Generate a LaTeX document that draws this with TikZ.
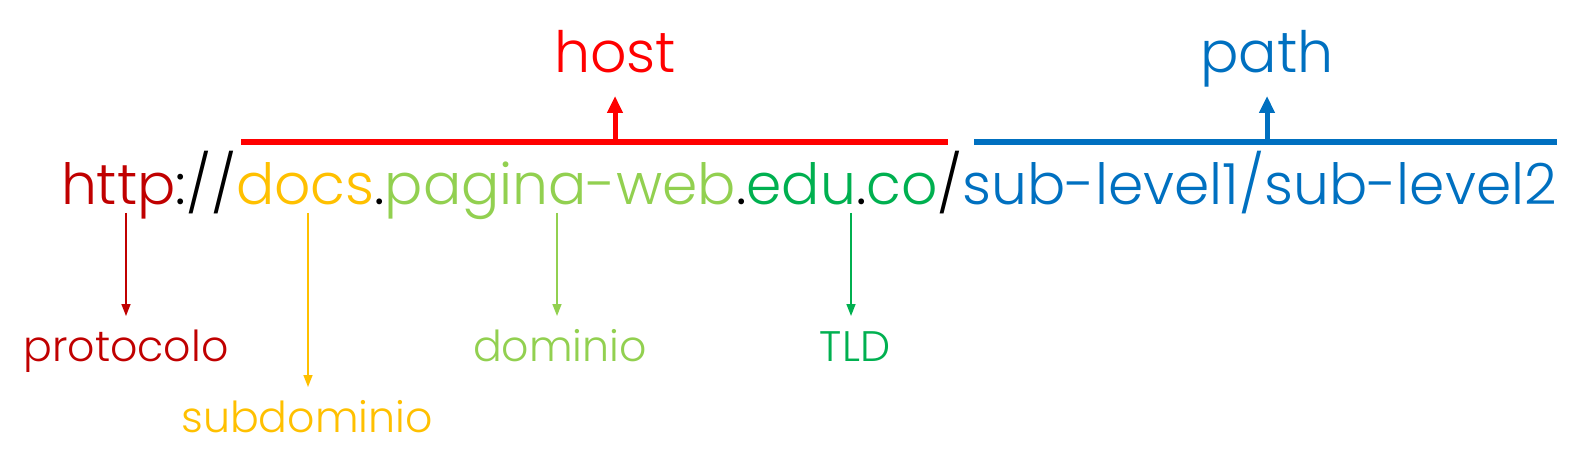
\documentclass[tikz,border=0pt]{standalone}
\usepackage{fontspec}
\setmainfont{Poppins Light}
\usetikzlibrary{arrows.meta}
\definecolor{cHttp}{HTML}{C00000}
\definecolor{cDocs}{HTML}{FFC000}
\definecolor{cPag}{HTML}{92D050}
\definecolor{cTld}{HTML}{00B050}
\definecolor{cPath}{HTML}{0070C0}
\definecolor{cHost}{HTML}{FF0000}
\newlength\tmpw
\newcommand\calcfs[3]{%
  \settowidth\tmpw{\normalfont\fontsize{50}{60}\selectfont #2}%
  \pgfmathsetmacro#1{50*(#3/\tmpw)}%
  \global\let#1#1}
\AtBeginDocument{%
\calcfs{\fsMain}{http://docs.pagina-web.edu.co/sub-level1/sub-level2}{1496}%
\calcfs{\fsLbl}{protocolo}{205}%
\calcfs{\fsHead}{host}{122}}
\begin{document}
\begin{tikzpicture}[x=1pt,y=-1pt,
  piece/.style={inner sep=0pt,outer sep=0pt,anchor=base west,font=\fontsize{\fsMain}{\fsMain}\selectfont},
  lbl/.style={inner sep=0pt,outer sep=0pt,anchor=base,font=\fontsize{\fsLbl}{\fsLbl}\selectfont},
  head/.style={inner sep=0pt,outer sep=0pt,anchor=base,font=\fontsize{\fsHead}{\fsHead}\selectfont},
  bar/.style={line width=5.5pt},
  uparr/.style={line width=5pt,-{Triangle[length=17pt,width=15pt]}},
  dnarr/.style={line width=1.5pt,-{Triangle[length=12pt,width=9pt]}}]
\useasboundingbox (0,0) rectangle (1594,470);
% main URL
\node[piece,text=cHttp] (http) at (61,205) {http};
\node[piece] (sep1) at (http.base east) {://};
\node[piece,text=cDocs] (docs) at (sep1.base east) {docs};
\node[piece] (dot1) at (docs.base east) {.};
\node[piece,text=cPag] (pagina) at (dot1.base east) {pagina-web};
\node[piece] (dot2) at (pagina.base east) {.};
\node[piece,text=cTld] (edu) at (dot2.base east) {edu};
\node[piece] (dot3) at (edu.base east) {.};
\node[piece,text=cTld] (co) at (dot3.base east) {co};
\node[piece] (sep2) at (co.base east) {/};
\node[piece,text=cPath] (pathtxt) at (sep2.base east) {sub-level1/sub-level2};
% headings and brackets
\node[head,text=cHost] (host) at (615,73) {host};
\node[head,text=cPath] (path) at (1267,73) {path};
\coordinate (hb1) at (241,142);
\coordinate (hb2) at (948,142);
\coordinate (hbm) at (615,142);
\coordinate (hbt) at (615,96);
\coordinate (pb1) at (974,142);
\coordinate (pb2) at (1557,142);
\coordinate (pbm) at (1267,142);
\coordinate (pbt) at (1267,96);
\draw[bar,cHost] (hb1) -- (hb2);
\draw[bar,cPath] (pb1) -- (pb2);
\draw[uparr,cHost] (hbm) -- (hbt);
\draw[uparr,cPath] (pbm) -- (pbt);
% labels
\node[lbl,text=cHttp] (protocolo) at (126,361) {protocolo};
\node[lbl,text=cDocs] (subdominio) at (307,432) {subdominio};
\node[lbl,text=cPag] (dominio) at (560,361) {dominio};
\node[lbl,text=cTld] (tld) at (855,361) {TLD};
\coordinate (a1) at (126,213);
\coordinate (a2) at (308,213);
\coordinate (a3) at (557,213);
\coordinate (a4) at (851,213);
\coordinate (e1) at (126,316);
\coordinate (e2) at (308,387);
\coordinate (e3) at (557,316);
\coordinate (e4) at (851,316);
\draw[dnarr,cHttp] (a1) -- (e1);
\draw[dnarr,cDocs] (a2) -- (e2);
\draw[dnarr,cPag] (a3) -- (e3);
\draw[dnarr,cTld] (a4) -- (e4);
\end{tikzpicture}
\end{document}
